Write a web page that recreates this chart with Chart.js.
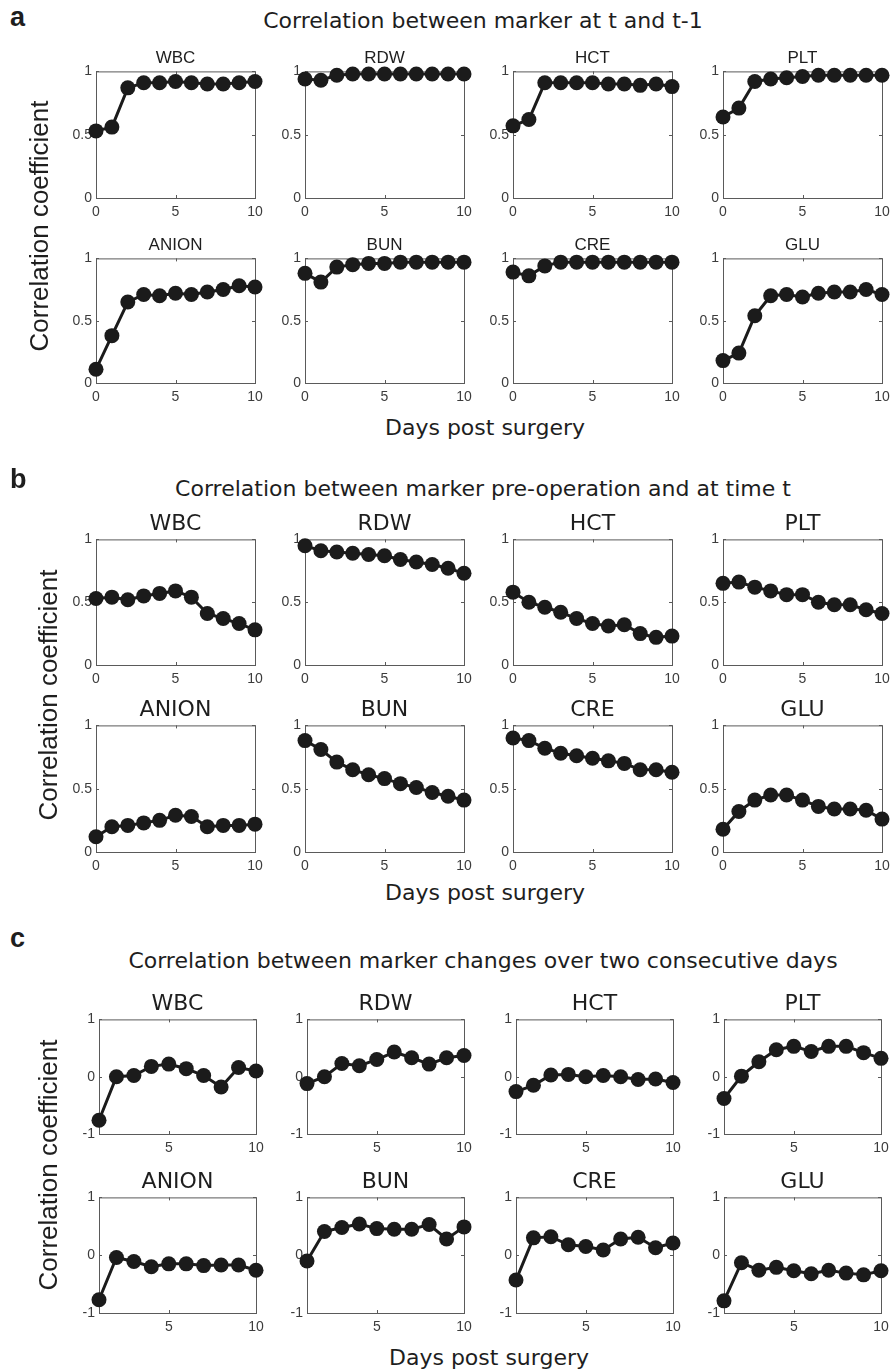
<!DOCTYPE html>
<html>
<head>
<meta charset="utf-8">
<script src="https://cdn.jsdelivr.net/npm/chart.js@4.4.1/dist/chart.umd.min.js"></script>
<style>
  body { margin: 0; background: #fff; }
  #page { position: relative; width: 891px; height: 1371px; overflow: hidden; background: #fff; }
  #page canvas { position: absolute; }
  .txt { position: absolute; white-space: nowrap; line-height: 1; color: #1e1e1e; }
</style>
</head>
<body>
<div id="page"></div>
<script>
'use strict';

// ---- data ----
const markers = ['WBC', 'RDW', 'HCT', 'PLT', 'ANION', 'BUN', 'CRE', 'GLU'];
const daysAB = [0, 1, 2, 3, 4, 5, 6, 7, 8, 9, 10];
const daysC = [1, 2, 3, 4, 5, 6, 7, 8, 9, 10];

// a: marker at t vs t-1
const wbcLag   = [0.53, 0.56, 0.87, 0.91, 0.91, 0.92, 0.91, 0.90, 0.90, 0.91, 0.92];
const rdwLag   = [0.94, 0.93, 0.97, 0.98, 0.98, 0.98, 0.98, 0.98, 0.98, 0.98, 0.98];
const hctLag   = [0.57, 0.62, 0.91, 0.91, 0.91, 0.91, 0.90, 0.90, 0.89, 0.90, 0.88];
const pltLag   = [0.64, 0.71, 0.92, 0.94, 0.95, 0.96, 0.97, 0.97, 0.97, 0.97, 0.97];
const anionLag = [0.11, 0.38, 0.65, 0.71, 0.70, 0.72, 0.71, 0.73, 0.75, 0.78, 0.77];
const bunLag   = [0.88, 0.81, 0.93, 0.95, 0.96, 0.96, 0.97, 0.97, 0.97, 0.97, 0.97];
const creLag   = [0.89, 0.86, 0.94, 0.97, 0.97, 0.97, 0.97, 0.97, 0.97, 0.97, 0.97];
const gluLag   = [0.18, 0.24, 0.54, 0.70, 0.71, 0.69, 0.72, 0.73, 0.73, 0.75, 0.71];

// b: marker pre-operation vs time t
const wbcPre   = [0.53, 0.54, 0.52, 0.55, 0.57, 0.59, 0.54, 0.41, 0.37, 0.33, 0.28];
const rdwPre   = [0.95, 0.91, 0.90, 0.89, 0.88, 0.87, 0.84, 0.82, 0.80, 0.77, 0.73];
const hctPre   = [0.58, 0.50, 0.46, 0.42, 0.37, 0.33, 0.31, 0.32, 0.25, 0.22, 0.23];
const pltPre   = [0.65, 0.66, 0.62, 0.59, 0.56, 0.56, 0.50, 0.48, 0.48, 0.44, 0.41];
const anionPre = [0.12, 0.20, 0.21, 0.23, 0.25, 0.29, 0.28, 0.20, 0.21, 0.21, 0.22];
const bunPre   = [0.88, 0.81, 0.71, 0.65, 0.61, 0.58, 0.54, 0.51, 0.47, 0.44, 0.41];
const crePre   = [0.90, 0.88, 0.82, 0.78, 0.76, 0.74, 0.72, 0.70, 0.65, 0.65, 0.63];
const gluPre   = [0.18, 0.32, 0.41, 0.45, 0.45, 0.41, 0.36, 0.34, 0.34, 0.33, 0.26];

// c: marker changes over two consecutive days
const wbcChg   = [-0.76, 0.00, 0.02, 0.18, 0.22, 0.14, 0.02, -0.18, 0.16, 0.10];
const rdwChg   = [-0.12, 0.00, 0.23, 0.19, 0.30, 0.43, 0.33, 0.22, 0.33, 0.37];
const hctChg   = [-0.26, -0.15, 0.03, 0.04, 0.00, 0.02, 0.00, -0.05, -0.04, -0.10];
const pltChg   = [-0.38, 0.01, 0.26, 0.47, 0.53, 0.44, 0.53, 0.53, 0.42, 0.32];
const anionChg = [-0.77, -0.04, -0.11, -0.20, -0.15, -0.15, -0.18, -0.17, -0.17, -0.26];
const bunChg   = [-0.10, 0.41, 0.48, 0.54, 0.46, 0.45, 0.45, 0.53, 0.28, 0.49];
const creChg   = [-0.43, 0.30, 0.32, 0.18, 0.15, 0.09, 0.28, 0.31, 0.13, 0.21];
const gluChg   = [-0.79, -0.13, -0.26, -0.21, -0.27, -0.32, -0.26, -0.31, -0.34, -0.27];

// tick labels
const xTicksAB = [0, 5, 10];
const xTicksC = [5, 10];
const yTicksAB = [0, 0.5, 1];
const yTicksC = [-1, 0, 1];

const panelTitles = [
    'Correlation between marker at t and t-1',
    'Correlation between marker pre-operation and at time t',
    'Correlation between marker changes over two consecutive days'
];
const panelLetters = ['a', 'b', 'c'];
const xLabel = 'Days post surgery';
const yLabel = 'Correlation coefficient';

// ---- layout (pixel boxes of the plot areas) ----
const AXIS_W = 40;   // room left of the plot area for y tick labels
const AXIS_H = 28;   // room below for x tick labels
const PAD_T = 10;    // room above so markers are not cut
const PAD_R = 14;

const panels = [
    {
        series: [wbcLag, rdwLag, hctLag, pltLag, anionLag, bunLag, creLag, gluLag],
        days: daysAB, xTicks: xTicksAB, yTicks: yTicksAB, xMin: 0, xMax: 10, yMin: 0, yMax: 1,
        lefts: [96, 305, 513, 723], width: 159, rows: [[69, 129], [256, 127]],
        subFont: '17px "Liberation Sans", Arial, sans-serif', subSize: 17,
        titleBase: 29, letterBase: 27, xLabelBase: 436, xLabelX: 485, yLabelX: 39
    },
    {
        series: [wbcPre, rdwPre, hctPre, pltPre, anionPre, bunPre, crePre, gluPre],
        days: daysAB, xTicks: xTicksAB, yTicks: yTicksAB, xMin: 0, xMax: 10, yMin: 0, yMax: 1,
        lefts: [96, 305, 513, 723], width: 159, rows: [[537, 128], [723, 129]],
        subFont: '22px "DejaVu Sans", Verdana, sans-serif', subSize: 22,
        titleBase: 497, letterBase: 489, xLabelBase: 901, xLabelX: 485, yLabelX: 48
    },
    {
        series: [wbcChg, rdwChg, hctChg, pltChg, anionChg, bunChg, creChg, gluChg],
        days: daysC, xTicks: xTicksC, yTicks: yTicksC, xMin: 1, xMax: 10, yMin: -1, yMax: 1,
        lefts: [99, 307, 516, 724], width: 157, rows: [[1017, 117], [1195, 118]],
        subFont: '22px "DejaVu Sans", Verdana, sans-serif', subSize: 22,
        titleBase: 969, letterBase: 948, xLabelBase: 1366, xLabelX: 489, yLabelX: 48
    }
];

const page = document.getElementById('page');

// Box around the plot area with small inward ticks (MATLAB look)
const boxPlugin = {
    id: 'box',
    beforeDatasetsDraw(chart) {
        const { ctx, chartArea: a, scales } = chart;
        ctx.save();
        ctx.strokeStyle = '#5a5a5a';
        ctx.lineWidth = 1;
        ctx.strokeRect(a.left + 0.5, a.top + 0.5, a.right - a.left, a.bottom - a.top);
        ctx.beginPath();
        scales.x.ticks.forEach(t => {
            const px = Math.round(scales.x.getPixelForValue(t.value)) + 0.5;
            ctx.moveTo(px, a.bottom); ctx.lineTo(px, a.bottom - 3);
            ctx.moveTo(px, a.top); ctx.lineTo(px, a.top + 3);
        });
        scales.y.ticks.forEach(t => {
            const py = Math.round(scales.y.getPixelForValue(t.value)) + 0.5;
            ctx.moveTo(a.left, py); ctx.lineTo(a.left + 3, py);
            ctx.moveTo(a.right, py); ctx.lineTo(a.right - 3, py);
        });
        ctx.stroke();
        ctx.restore();
    }
};

function addText(text, x, baseline, font, size, align, extra) {
    const el = document.createElement('div');
    el.className = 'txt';
    el.textContent = text;
    el.style.font = font;
    el.style.lineHeight = '1';
    el.style.top = (baseline - 0.85 * size) + 'px';
    if (align === 'center') {
        el.style.left = (x - 400) + 'px';
        el.style.width = '800px';
        el.style.textAlign = 'center';
    } else {
        el.style.left = x + 'px';
    }
    if (extra) Object.assign(el.style, extra);
    page.appendChild(el);
    return el;
}

function makePlot(panel, left, top, width, height, values) {
    const canvas = document.createElement('canvas');
    canvas.width = width + AXIS_W + PAD_R;
    canvas.height = height + PAD_T + AXIS_H;
    canvas.style.left = (left - AXIS_W) + 'px';
    canvas.style.top = (top - PAD_T) + 'px';
    page.appendChild(canvas);

    const tickFont = { family: '"Liberation Sans", Arial, sans-serif', size: 14 };

    return new Chart(canvas.getContext('2d'), {
        type: 'line',
        data: {
            datasets: [{
                data: panel.days.map((d, i) => ({ x: d, y: values[i] })),
                borderColor: '#1b1b1b',
                backgroundColor: '#1b1b1b',
                borderWidth: 3,
                pointRadius: 7.5,
                pointBorderWidth: 0,
                tension: 0,
                clip: false
            }]
        },
        options: {
            responsive: false,
            animation: false,
            layout: { padding: { top: PAD_T, right: PAD_R, left: 0, bottom: 0 } },
            plugins: { legend: { display: false }, tooltip: { enabled: false } },
            scales: {
                x: {
                    type: 'linear', min: panel.xMin, max: panel.xMax,
                    grid: { display: false, drawTicks: false },
                    border: { display: false },
                    ticks: { font: tickFont, color: '#3c3c3c', padding: 6, maxRotation: 0,
                             callback: v => String(v) },
                    afterBuildTicks: s => { s.ticks = panel.xTicks.map(v => ({ value: v })); },
                    afterFit: s => { s.height = AXIS_H; }
                },
                y: {
                    min: panel.yMin, max: panel.yMax,
                    grid: { display: false, drawTicks: false },
                    border: { display: false },
                    ticks: { font: tickFont, color: '#3c3c3c', padding: 4,
                             callback: v => String(v) },
                    afterBuildTicks: s => { s.ticks = panel.yTicks.map(v => ({ value: v })); },
                    afterFit: s => { s.width = AXIS_W; }
                }
            }
        },
        plugins: [boxPlugin]
    });
}

panels.forEach((panel, p) => {
    markers.forEach((name, i) => {
        const row = panel.rows[Math.floor(i / 4)];
        const left = panel.lefts[i % 4];
        makePlot(panel, left, row[0], panel.width, row[1], panel.series[i]);
        addText(name, left + panel.width / 2, row[0] - 6, panel.subFont, panel.subSize, 'center');
    });

    // panel letter and title
    addText(panelLetters[p], 10, panel.letterBase, 'bold 27px "Liberation Sans", Arial, sans-serif', 27, 'left');
    addText(panelTitles[p], 483, panel.titleBase, '22px "DejaVu Sans", Verdana, sans-serif', 22, 'center');

    // shared axis labels
    addText(xLabel, panel.xLabelX, panel.xLabelBase, '22px "DejaVu Sans", Verdana, sans-serif', 22, 'center');
    const top = panel.rows[0][0];
    const bottom = panel.rows[1][0] + panel.rows[1][1];
    const yl = document.createElement('div');
    yl.className = 'txt';
    yl.textContent = yLabel;
    Object.assign(yl.style, {
        font: '26px "Liberation Sans", Arial, sans-serif',
        lineHeight: '26px',
        width: '400px',
        textAlign: 'center',
        left: (panel.yLabelX - 200) + 'px',
        top: ((top + bottom) / 2 - 13) + 'px',
        transform: 'rotate(-90deg)'
    });
    page.appendChild(yl);
});
</script>
</body>
</html>
